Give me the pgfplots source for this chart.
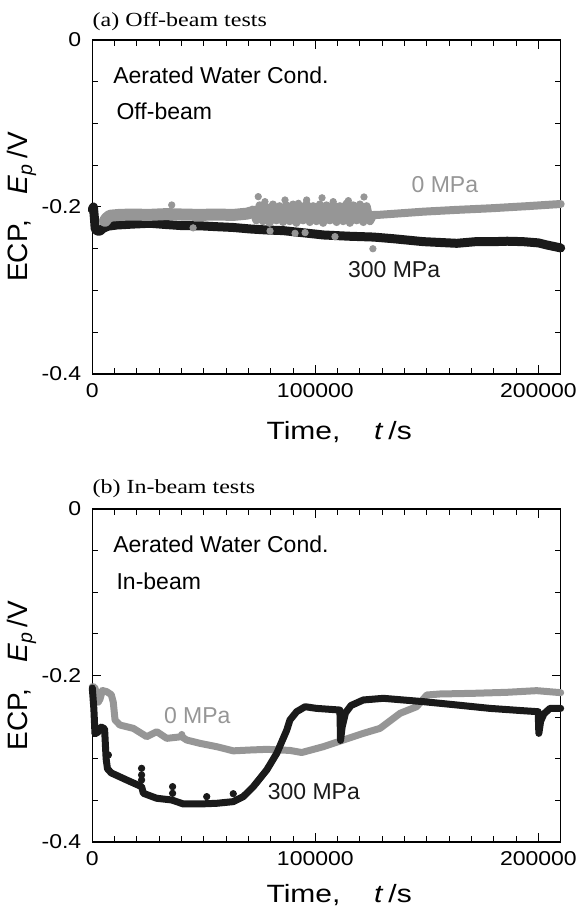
\documentclass[border=0pt]{standalone}
\usepackage{fontspec}
\setmainfont{Liberation Sans}
\newfontfamily\timesfont{Liberation Serif}
\usepackage{graphicx}
\usepackage{pgfplots}
\pgfplotsset{compat=1.18}
\definecolor{dk}{RGB}{26,26,26}
\definecolor{lg}{RGB}{150,150,150}

\tikzset{ann/.style={font=\fontsize{11.5}{13}\selectfont, anchor=west, inner sep=0pt}}

\pgfplotsset{
  ecp/.style={
    scale only axis, width=234.2pt, clip=false,
    xmin=0, xmax=210000, ymin=-0.4, ymax=0,
    scaled x ticks=false, scaled y ticks=false,
    xtick={0,100000,200000},
    xticklabels={{\scalebox{1.15}[1]{0}},{\scalebox{1.15}[1]{100000}},{\scalebox{1.15}[1]{200000}}},
    ytick={-0.4,-0.2,0},
    yticklabels={{\scalebox{1.15}[1]{-0.4}},{\scalebox{1.15}[1]{-0.2}},{\scalebox{1.15}[1]{0}}},
    minor x tick num=9, minor y tick num=3,
    tick align=inside, major tick length=4.5pt, minor tick length=3pt,
    axis line style={line width=0.6pt},
    every tick/.style={line width=0.5pt, black},
    ticklabel style={font=\fontsize{10}{12}\selectfont},
    xticklabel style={yshift=-1.2pt},
    yticklabel style={xshift=-2pt},
    xlabel={\scalebox{1.2}[1]{Time,\hspace{14pt}\textit{t}\,/s}},
    xlabel style={font=\fontsize{12.5}{15}\selectfont, at={(axis description cs:0.527,0)}, anchor=north, yshift=-20pt},
    ylabel={ECP,\hspace{13pt}\textit{E}\textsubscript{\textit{p}}\,/V},
    ylabel style={font=\fontsize{14}{16}\selectfont, at={(axis description cs:0,0.5)}, rotate=0, anchor=south, yshift=24.5pt},
  },
  blk/.style={draw=dk, line width=4.5pt, line join=round, line cap=round, mark=none},
  gry/.style={draw=lg, line width=4.5pt, line join=round, line cap=round, mark=none},
  gdot/.style={only marks, mark=*, mark size=1.6pt, color=lg},
  bdot/.style={only marks, mark=*, mark size=1.6pt, color=dk},
}

\begin{document}
\begin{tikzpicture}
\useasboundingbox (-46.15pt,-269.5pt) rectangle (243.35pt,187pt);

% (a) off-beam
\begin{axis}[ecp, name=top, height=167pt, at={(0pt,0pt)}, anchor=south west]
\addplot[blk] coordinates {
 (0,-0.203) (500,-0.200) (900,-0.212) (1300,-0.226) (2200,-0.229) (3400,-0.229)
 (4900,-0.2255) (7000,-0.223) (10900,-0.2216) (18000,-0.2205) (25900,-0.2195)
 (33000,-0.221) (40800,-0.2224) (48000,-0.2225) (55800,-0.2236) (63000,-0.2245)
 (70700,-0.2263) (78000,-0.2275) (85600,-0.2283) (95000,-0.231) (103600,-0.2335)
 (115000,-0.235) (126000,-0.236) (135000,-0.238) (148400,-0.2415) (163400,-0.2435)
 (172000,-0.2415) (180000,-0.2415) (186000,-0.241) (193100,-0.2415) (200000,-0.243)
 (203800,-0.2455) (210000,-0.249)
};
\addplot[gry, line width=6pt] coordinates {
 (5700,-0.2165) (6500,-0.2135) (7900,-0.2105) (12000,-0.2095) (18400,-0.209)
 (25000,-0.2095) (33400,-0.2085) (40000,-0.209) (48300,-0.2095) (55000,-0.209)
 (63200,-0.2095) (69200,-0.208) (72000,-0.206)
};
\addplot[gry, line width=4pt] coordinates {
 (72000,-0.203) (73500,-0.216) (75000,-0.198) (76500,-0.217) (78000,-0.200)
 (79500,-0.219) (81000,-0.197) (82500,-0.216) (84000,-0.199) (85500,-0.218)
 (87000,-0.198) (88500,-0.217) (90000,-0.197) (91500,-0.219) (93000,-0.199)
 (94500,-0.216) (96000,-0.196) (97500,-0.218) (99000,-0.199) (100500,-0.217)
 (102000,-0.197) (103500,-0.219) (105000,-0.198) (106500,-0.216) (108000,-0.197)
 (109500,-0.218) (111000,-0.199) (112500,-0.217) (114000,-0.196) (115500,-0.219)
 (117000,-0.198) (118500,-0.216) (120000,-0.197) (121500,-0.218) (123000,-0.199)
 (124500,-0.217) (126000,-0.2095)
};
\addplot[gry, line width=4pt] coordinates {
 (126000,-0.2095) (127500,-0.2096) (148400,-0.2056) (163000,-0.2035)
 (178300,-0.2016) (195000,-0.199) (210000,-0.1964)
};
\addplot[gdot] coordinates {
 (35600,-0.1976) (45200,-0.225) (74400,-0.1876) (77400,-0.1936) (79700,-0.2287)
 (86400,-0.1916) (90900,-0.2315) (92400,-0.1956) (95400,-0.2307) (96100,-0.1916)
 (103000,-0.189) (108000,-0.1936) (108800,-0.2355) (114800,-0.1924)
 (121800,-0.188) (125800,-0.250)
};
\node[ann, text=lg] at (axis cs:143000,-0.1737) {0 MPa};
\node[ann, text=dk] at (axis cs:114500,-0.2754) {300 MPa};
\node[ann] at (rel axis cs:0.044,0.895) {Aerated Water Cond.};
\node[ann] at (rel axis cs:0.051,0.786) {Off-beam};
\end{axis}
\node[anchor=base west, inner sep=0pt, font=\timesfont\fontsize{10}{12}\selectfont]
  at ([yshift=6.7pt]top.north west) {\scalebox{1.2}[1]{(a) Off-beam tests}};

% (b) in-beam
\begin{axis}[ecp, name=bot, height=166.5pt, at={(0pt,-234pt)}, anchor=south west,
  xlabel style={yshift=2.5pt}]
\addplot[gry, line width=3.5pt] coordinates {
 (0,-0.2134) (1000,-0.214) (2000,-0.222) (2700,-0.232) (3500,-0.228) (4500,-0.218)
 (6450,-0.2194) (8500,-0.223) (9400,-0.232) (10200,-0.2535) (12400,-0.2595)
 (18400,-0.2635) (24400,-0.2735) (28900,-0.2675) (33400,-0.2755) (40100,-0.2735)
 (42300,-0.2775) (48300,-0.2815) (55800,-0.2855) (63200,-0.2905) (70700,-0.2895)
 (78200,-0.2887) (88600,-0.290) (93900,-0.2925) (103600,-0.2855) (112500,-0.2775)
 (121500,-0.2695) (129000,-0.2635) (138000,-0.2454) (145400,-0.2375)
 (150000,-0.2234) (155900,-0.2222) (170800,-0.2214) (185800,-0.2202)
 (199200,-0.2182) (210000,-0.2206)
};
\addplot[gdot] coordinates {(40100,-0.271)};
\addplot[blk, line width=3.5pt] coordinates {
 (0,-0.215) (700,-0.240) (1200,-0.270) (2500,-0.268) (4000,-0.262) (5500,-0.264)
 (6200,-0.300) (6800,-0.312) (8500,-0.317) (15400,-0.3255) (22100,-0.3335)
 (22900,-0.3415) (28900,-0.3475) (35600,-0.3495) (40800,-0.3543) (48300,-0.3543)
 (55800,-0.3535) (63200,-0.3515) (67700,-0.3455) (72200,-0.3335) (78200,-0.3135)
 (82700,-0.2935) (87200,-0.2655) (88600,-0.2535) (91600,-0.2435) (95400,-0.2375)
 (100600,-0.2395) (111000,-0.2415) (111300,-0.278) (112000,-0.262) (113500,-0.245)
 (116000,-0.236) (121500,-0.2294) (130500,-0.2274) (148400,-0.2314)
 (163400,-0.2354) (178300,-0.2395) (193200,-0.2423) (199900,-0.2435)
 (200200,-0.2695) (201000,-0.255) (202500,-0.246) (205200,-0.2395) (210000,-0.2395)
};
\addplot[bdot] coordinates {
 (7200,-0.2955) (22100,-0.3115) (22100,-0.3195) (22100,-0.3255) (36000,-0.3335)
 (36000,-0.3415) (51300,-0.3455) (63200,-0.342)
};
\node[ann, text=lg] at (axis cs:32000,-0.248) {0 MPa};
\node[ann, text=dk] at (axis cs:78500,-0.3393) {300 MPa};
\node[ann] at (rel axis cs:0.044,0.893) {Aerated Water Cond.};
\node[ann] at (rel axis cs:0.051,0.784) {In-beam};
\end{axis}
\node[anchor=base west, inner sep=0pt, font=\timesfont\fontsize{10}{12}\selectfont]
  at ([yshift=8pt]bot.north west) {\scalebox{1.2}[1]{(b) In-beam tests}};
\end{tikzpicture}
\end{document}
